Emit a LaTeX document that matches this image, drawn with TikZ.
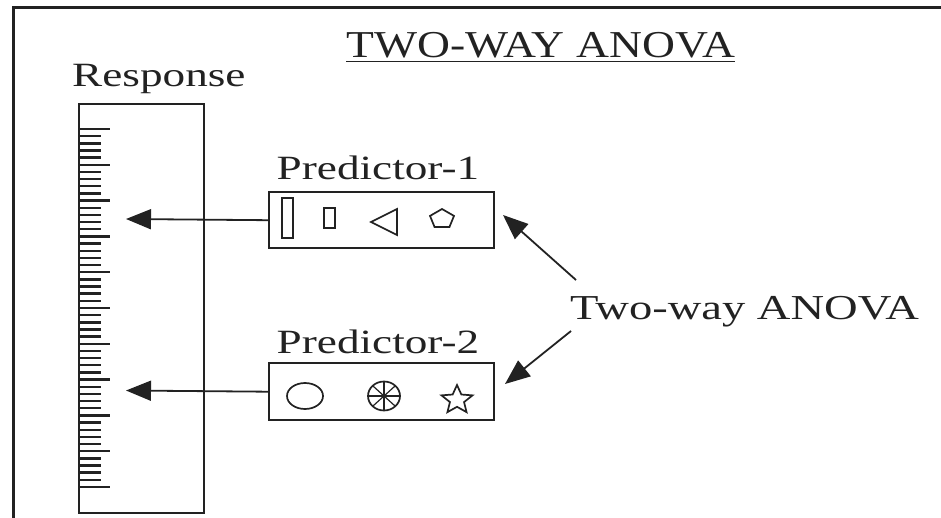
\documentclass[tikz,border=0pt]{standalone}
\usepackage{fontspec}
\setmainfont{Liberation Serif}[FakeStretch=1.33]
\newfontfamily\headfont{Liberation Serif}[FakeStretch=1.2]
\usetikzlibrary{arrows.meta}

\definecolor{ink}{HTML}{222222}

\begin{document}
\begin{tikzpicture}[x=1pt,y=-1pt,
  frameline/.style={line width=3pt, draw=ink},
  boxline/.style={line width=2.4pt, draw=ink, inner sep=0pt},
  glyph/.style={line width=1.7pt, draw=ink},
  tickline/.style={line width=2.4pt, draw=ink},
  lbl/.style={font=\fontsize{34}{40}\selectfont, text=ink, inner sep=0pt},
  ptr/.style={line width=1.8pt, draw=ink, -{Triangle[length=25pt,width=20pt]}},
]
\useasboundingbox (0,0) rectangle (941,518);

% outer frame (only its top and left edges fall inside the page)
\draw[frameline] (13,522) -- (13,8) -- (945,8);

% title with underline
\node[lbl, font=\headfont\fontsize{38}{44}\selectfont, anchor=base west] (title) at (346,58) {TWO-WAY ANOVA};
\draw[line width=1.8pt, draw=ink] ([yshift=-3.5pt]title.base west) -- ([yshift=-3.5pt]title.base east);

% response ruler
\node[lbl, anchor=base west] (resp) at (72,87) {Response};
\node[boxline, draw, minimum width=125pt, minimum height=409pt, anchor=north west] (ruler) at (78,103) {};
\foreach \i in {0,...,50}
  \draw[tickline] (78,{129+7.16*\i}) -- ++(23,0);
\foreach \i in {0,5,...,50}
  \draw[tickline] (78,{129+7.16*\i}) -- ++(32,0);

% predictor boxes
\node[boxline, draw, minimum width=225pt, minimum height=56pt, anchor=north west] (p1) at (268,191) {};
\node[boxline, draw, minimum width=225pt, minimum height=57pt, anchor=north west] (p2) at (268,362) {};
\node[lbl, anchor=base] (p1lbl) at (378,180) {Predictor-1};
\node[lbl, anchor=base] (p2lbl) at (378,353) {Predictor-2};

% level symbols of predictor 1
\draw[glyph] (282,198) rectangle (293,238);
\draw[glyph] (324,208) rectangle (335,228);
\draw[glyph] (371,222) -- (397,209) -- (397,235) -- cycle;
\begin{scope}[shift={(442,219)}]
  \draw[glyph] (-90:12.6 and 10) -- (-18:12.6 and 10) -- (54:12.6 and 10)
    -- (126:12.6 and 10) -- (198:12.6 and 10) -- cycle;
\end{scope}

% level symbols of predictor 2
\draw[glyph] (305,396) ellipse [x radius=18, y radius=13];
\begin{scope}[shift={(384,396)}]
  \draw[glyph] (0,0) ellipse [x radius=16, y radius=14.5];
  \foreach \a in {0,45,90,135}
    \draw[line width=1.2pt, draw=ink] (\a:16 and 14.5) -- (\a+180:16 and 14.5);
\end{scope}
\begin{scope}[shift={(457,400)}]
  \draw[glyph, line join=miter] (-90:16.3 and 15) -- (-54:7.4 and 6.8) -- (-18:16.3 and 15)
    -- (18:7.4 and 6.8) -- (54:16.3 and 15) -- (90:7.4 and 6.8) -- (126:16.3 and 15)
    -- (162:7.4 and 6.8) -- (198:16.3 and 15) -- (234:7.4 and 6.8) -- cycle;
\end{scope}

% arrows into the ruler
\coordinate (t1) at (126,219);
\coordinate (t2) at (126,390.5);
\draw[ptr] (p1.west) -- (t1);
\draw[ptr] (p2.west) -- (t2);

% two-way ANOVA label and its arrows
\node[lbl, font=\fontsize{35}{41}\selectfont, anchor=base west] (anova) at (570,319) {Two-way ANOVA};
\coordinate (a1s) at (576,280);
\coordinate (a1e) at (503,215);
\coordinate (a2s) at (571,331);
\coordinate (a2e) at (505,384);
\draw[ptr] (a1s) -- (a1e);
\draw[ptr] (a2s) -- (a2e);
\end{tikzpicture}
\end{document}
